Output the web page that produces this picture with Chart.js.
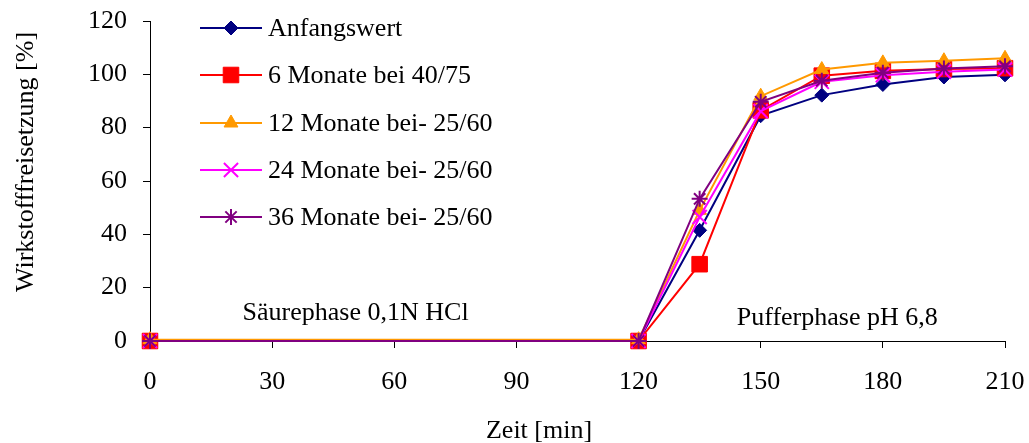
<!DOCTYPE html>
<html>
<head>
<meta charset="utf-8">
<script src="https://cdn.jsdelivr.net/npm/chart.js@4"></script>
<style>
  body { margin: 0; background: #fff; }
  #wrap { width: 1029px; height: 443px; }
</style>
</head>
<body>
<div id="wrap"><canvas id="chart"></canvas></div>
<script>
// Zeitpunkte [min] und Freisetzung [%] je Lagerbedingung
const zeit = [0, 120, 135, 150, 165, 180, 195, 210];
const anfangswert = [0, 0, 41.5, 84.5, 92.2, 96.2, 99, 99.8];
const monate6 = [0, 0, 28.8, 86.5, 99.5, 101.3, 102, 102.3];
const monate12 = [0.5, 0.5, 49, 91.8, 101.8, 104.3, 105.1, 106];
const monate24 = [0, 0, 46.5, 86.2, 97.2, 99.7, 101, 101.8];
const monate36 = [0, 0, 53.3, 89.7, 97.6, 100.6, 102.2, 103];

const serienNamen = ['Anfangswert', '6 Monate bei 40/75', '12 Monate bei- 25/60', '24 Monate bei- 25/60', '36 Monate bei- 25/60'];
const yTicks = [0, 20, 40, 60, 80, 100, 120];
const xTicks = [0, 30, 60, 90, 120, 150, 180, 210];

const phasen = [
    { text: 'Säurephase 0,1N HCl', x: 50.5, y: 10.5 },
    { text: 'Pufferphase pH 6,8', x: 168.8, y: 8.6 },
];

const FONT = '"Liberation Serif", "Times New Roman", serif';
const FS = 26;

const styles = [
    { color: '#000080', pointStyle: 'rectRot', radius: 7, fill: true },
    { color: '#FF0000', pointStyle: 'rect', radius: 11, fill: true },
    { color: '#FF9900', pointStyle: 'triangle', radius: 8, fill: true },
    { color: '#FF00FF', pointStyle: 'crossRot', radius: 10, fill: false },
    { color: '#800080', pointStyle: 'star', radius: 8, fill: false },
];

const werte = [anfangswert, monate6, monate12, monate24, monate36];

const datasets = werte.map((serie, i) => ({
    label: serienNamen[i],
    data: serie.map((v, k) => ({ x: zeit[k], y: v })),
    borderColor: styles[i].color,
    backgroundColor: styles[i].color,
    borderWidth: 2,
    pointStyle: styles[i].pointStyle,
    pointRadius: styles[i].radius,
    pointBorderWidth: styles[i].fill ? 1 : 2,
    pointBorderColor: styles[i].color,
    pointBackgroundColor: styles[i].color,
    tension: 0,
    clip: false,
    order: werte.length - i,
}));

// Beschriftungen, Achsentitel und Legende im Diagramm
const beschriftung = {
    id: 'beschriftung',
    afterDraw(chart) {
        const { ctx, chartArea, scales } = chart;
        ctx.save();
        ctx.font = FS + 'px ' + FONT;
        ctx.fillStyle = '#000';
        ctx.textBaseline = 'middle';
        ctx.textAlign = 'center';
        phasen.forEach(p => {
            ctx.fillText(p.text, scales.x.getPixelForValue(p.x), scales.y.getPixelForValue(p.y));
        });
        ctx.fillText('Zeit [min]', chartArea.left + chartArea.width * 0.455, 431);

        ctx.save();
        ctx.translate(26, 162);
        ctx.rotate(-Math.PI / 2);
        ctx.fillText('Wirkstofffreisetzung [%]', 0, 0);
        ctx.restore();

        // Legende
        const x0 = chartArea.left + 50;
        const rows = [28, 75, 123, 170, 217];
        ctx.textAlign = 'left';
        styles.forEach((s, i) => {
            const y = rows[i];
            ctx.strokeStyle = s.color;
            ctx.lineWidth = 2;
            ctx.beginPath();
            ctx.moveTo(x0, y);
            ctx.lineTo(x0 + 62, y);
            ctx.stroke();
            ctx.fillStyle = s.color;
            ctx.lineWidth = s.fill ? 1 : 2;
            Chart.helpers.drawPoint(ctx, { pointStyle: s.pointStyle, radius: s.radius, rotation: 0, borderWidth: s.fill ? 1 : 2 }, x0 + 31, y);
            ctx.fillStyle = '#000';
            ctx.fillText(serienNamen[i], x0 + 68, y + 1);
        });
        ctx.restore();
    },
};

new Chart(document.getElementById('chart'), {
    type: 'line',
    data: { datasets },
    plugins: [beschriftung],
    options: {
        responsive: true,
        maintainAspectRatio: false,
        animation: false,
        layout: { padding: { top: 21, right: 24, left: 0, bottom: 0 } },
        plugins: {
            legend: { display: false },
            tooltip: { enabled: false },
        },
        scales: {
            x: {
                type: 'linear',
                min: 0,
                max: 210,
                afterBuildTicks: s => { s.ticks = xTicks.map(v => ({ value: v })); },
                afterFit: s => { s.height = 102; s.paddingLeft = 0; s.paddingRight = 0; },
                grid: { drawOnChartArea: false, color: '#000', tickLength: 7, tickWidth: 1 },
                border: { color: '#000', width: 1 },
                ticks: { color: '#000', font: { family: FONT, size: FS }, padding: 19, maxRotation: 0 },
            },
            y: {
                min: 0,
                max: 120,
                afterBuildTicks: s => { s.ticks = yTicks.map(v => ({ value: v })); },
                afterFit: s => { s.width = 150; s.paddingTop = 0; s.paddingBottom = 0; },
                grid: { drawOnChartArea: false, color: '#000', tickLength: 7, tickWidth: 1 },
                border: { color: '#000', width: 1 },
                ticks: { color: '#000', font: { family: FONT, size: FS }, padding: 16 },
            },
        },
    },
});
</script>
</body>
</html>
